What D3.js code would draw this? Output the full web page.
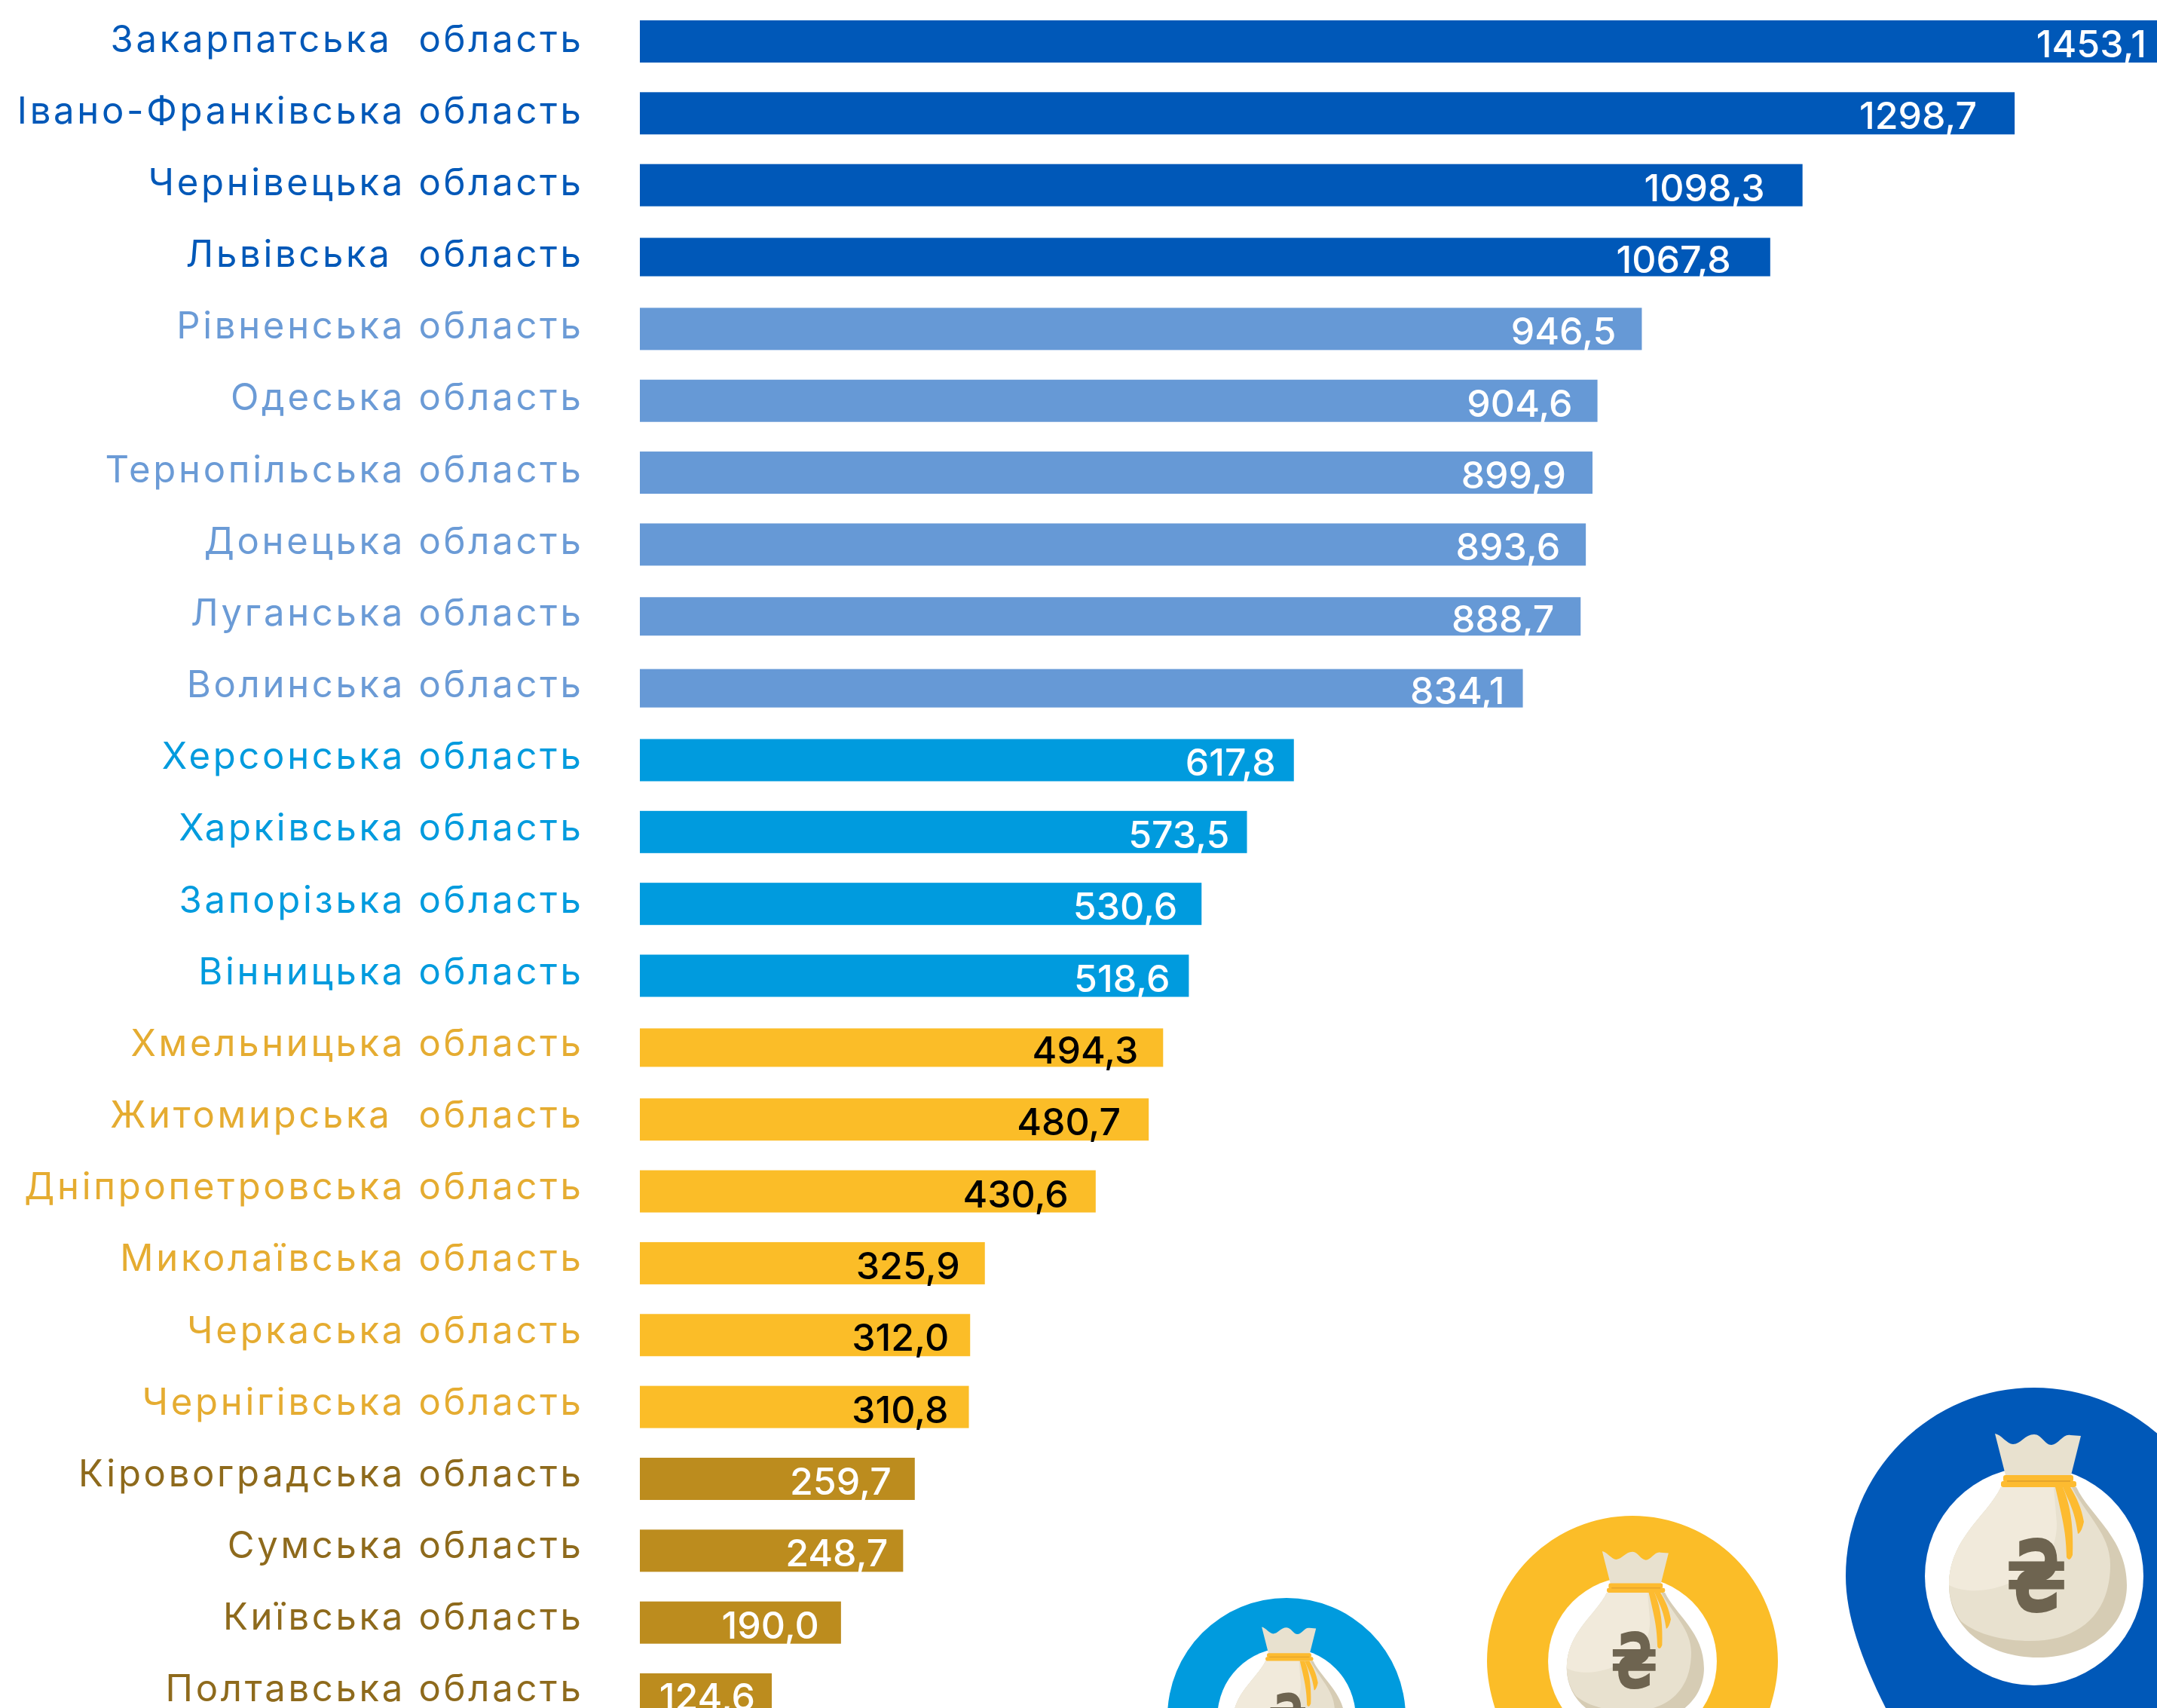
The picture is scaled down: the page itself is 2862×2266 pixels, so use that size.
<!DOCTYPE html>
<html>
<head>
<meta charset="utf-8">
<script src="https://cdn.jsdelivr.net/npm/d3@7"></script>
<style>
    html, body { margin: 0; padding: 0; background: #fff; overflow: hidden; }
    svg { display: block; }
    text { font-family: "Inter", "Liberation Sans", sans-serif; white-space: pre; }
</style>
</head>
<body>
<div id="chart"></div>
<script>
// Data
var regions = [
    "Закарпатська  область", "Івано-Франківська область", "Чернівецька область",
    "Львівська  область", "Рівненська область", "Одеська область",
    "Тернопільська область", "Донецька область", "Луганська область",
    "Волинська область", "Херсонська область", "Харківська область",
    "Запорізька область", "Вінницька область", "Хмельницька область",
    "Житомирська  область", "Дніпропетровська область", "Миколаївська область",
    "Черкаська область", "Чернігівська область", "Кіровоградська область",
    "Сумська область", "Київська область", "Полтавська область"
];
var values = [
    1453.1, 1298.7, 1098.3, 1067.8, 946.5, 904.6, 899.9, 893.6,
    888.7, 834.1, 617.8, 573.5, 530.6, 518.6, 494.3, 480.7,
    430.6, 325.9, 312.0, 310.8, 259.7, 248.7, 190.0, 124.6
];
var groups = [
    0, 0, 0, 0, 1, 1, 1, 1, 1, 1, 2, 2,
    2, 2, 3, 3, 3, 3, 3, 3, 4, 4, 4, 4
];
var data = regions.map(function(r, i) {
    return { region: r, value: values[i], group: groups[i] };
});

var chart_width     =   2862;
var chart_height    =   2266;
var bar_left        =   849;
var label_right     =   774.5;

var bar_colors      =   ["#0058b8", "#6699d6", "#009bde", "#fbbd28", "#bc8c1e"];
var label_colors    =   ["#0058b8", "#6b9bd6", "#009bde", "#e5ac31", "#8e6a1c"];
var value_colors    =   ["#fff", "#fff", "#fff", "#000", "#fff"];

// rows the original draws a little thinner
var thin_rows       =   [3, 8, 9, 14];
// how far each number sits from the end of its bar
var value_inset     =   [42, 50, 50, 52, 34, 33, 35, 34, 35, 24, 24, 23,
                         32, 25, 33, 37, 36, 33, 28, 27, 31, 20, 29, 22];

// Scales
var x_scale = d3.scaleLinear()
    .domain([0, d3.max(values)])
    .range([bar_left, bar_left + 2041]);
var y_scale = d3.scaleBand()
    .domain(regions)
    .range([7.3, 7.3 + 95.35 * regions.length]);
// the names run on a slightly tighter pitch than the bars
var label_scale = d3.scaleBand()
    .domain(regions)
    .range([21, 21 + 95.17 * regions.length]);

var ua_format = d3.formatLocale({ decimal: ",", thousands: "", grouping: [3], currency: ["", ""] }).format(".1f");

// Create SVG
var svg = d3.select("#chart")
    .append("svg")
    .attr("width", chart_width)
    .attr("height", chart_height);

// Bars
svg.append("g").selectAll("rect")
    .data(data)
    .enter()
    .append("rect")
    .attr("x", function(d) { return x_scale(0); })
    .attr("width", function(d) { return x_scale(d.value) - x_scale(0); })
    .attr("y", function(d, i) {
        var h = thin_rows.indexOf(i) >= 0 ? 51 : 56;
        return y_scale(d.region) + (y_scale.bandwidth() - h) / 2;
    })
    .attr("height", function(d, i) { return thin_rows.indexOf(i) >= 0 ? 51 : 56; })
    .attr("fill", function(d) { return bar_colors[d.group]; });

// Region names
svg.append("g").selectAll("text")
    .data(data)
    .enter()
    .append("text")
    .attr("x", label_right)
    .attr("y", function(d) { return label_scale(d.region) + label_scale.bandwidth() / 2; })
    .attr("text-anchor", "end")
    .attr("font-size", 49)
    .attr("letter-spacing", 3.7)
    .attr("fill", function(d) { return label_colors[d.group]; })
    .text(function(d) { return d.region; });

// Values
svg.append("g").selectAll("text")
    .data(data)
    .enter()
    .append("text")
    .attr("x", function(d, i) { return x_scale(d.value) - value_inset[i]; })
    .attr("y", function(d) { return y_scale(d.region) + y_scale.bandwidth() / 2 + 21; })
    .attr("text-anchor", "end")
    .attr("font-size", 50)
    .attr("font-weight", 500)
    .attr("fill", function(d) { return value_colors[d.group]; })
    .text(function(d) { return ua_format(d.value); });

// Map pins with a money bag, drawn at radius 250 and scaled down
function draw_pin(cx, cy, r, color) {
    var g = svg.append("g")
        .attr("transform", "translate(" + cx + "," + cy + ") scale(" + (r / 250) + ")");

    g.append("path")
        .attr("d", "M-250,0 A250,250 0 0 1 250,0 C250,130 120,300 0,520 C-120,300 -250,130 -250,0 Z")
        .attr("fill", color);
    g.append("circle").attr("r", 145).attr("fill", "#fff");

    // body: shadow, main, highlight
    g.append("path")
        .attr("d", "M-44,-118 C-62,-80 -113,-50 -113,12 C-113,70 -60,108 5,108 C70,108 123,70 123,12 C123,-50 74,-80 56,-118 Z")
        .attr("fill", "#d6ccb4");
    g.append("path")
        .attr("d", "M-44,-118 C-62,-80 -113,-50 -113,12 C-113,30 -106,48 -97,60 C-75,78 -40,86 -5,86 C60,86 101,50 101,-15 C101,-55 70,-80 50,-118 Z")
        .attr("fill", "#e8e1cf");
    g.append("path")
        .attr("d", "M-44,-118 C-62,-80 -113,-50 -113,12 C-90,24 -55,20 -30,8 C10,-8 30,-30 30,-70 L26,-118 Z")
        .attr("fill", "#f1eadb");

    // neck
    g.append("path")
        .attr("d", "M-52,-189 C-44,-188 -36,-175 -28,-175 C-18,-175 -12,-188 0,-188 C10,-188 14,-174 23,-174 C32,-174 38,-189 48,-187 L62,-186 L48,-130 L-37,-130 Z")
        .attr("fill", "#e8e1cf");

    // strings
    g.append("path")
        .attr("d", "M28,-118 C38,-75 42,-60 43,-25 Q47,-18 51,-28 C52,-60 50,-90 38,-118 Z")
        .attr("fill", "#fdbb30");
    g.append("path")
        .attr("d", "M38,-118 C48,-95 54,-85 58,-56 Q63,-58 66,-72 C63,-90 56,-105 48,-118 Z")
        .attr("fill", "#fdbb30");
    g.append("rect").attr("x", -41).attr("y", -134).attr("width", 93).attr("height", 9).attr("rx", 3).attr("fill", "#fdbb30");
    g.append("rect").attr("x", -44).attr("y", -126).attr("width", 100).attr("height", 8).attr("rx", 3).attr("fill", "#fdbb30");
    g.append("rect").attr("x", -36).attr("y", -127).attr("width", 84).attr("height", 2).attr("fill", "#e5a52c");

    // hryvnia sign, narrowed to the bag's proportions
    g.append("text")
        .attr("transform", "translate(3,47) scale(0.72,1)")
        .attr("text-anchor", "middle")
        .attr("font-size", 132)
        .attr("font-weight", "bold")
        .style("font-family", "'DejaVu Sans', sans-serif")
        .attr("fill", "#6e6450")
        .text("₴");
}

draw_pin(1707, 2278, 158, "#009bde");
draw_pin(2166, 2204, 193, "#fbbd28");
draw_pin(2699, 2091, 250, "#0058b8");
</script>
</body>
</html>
